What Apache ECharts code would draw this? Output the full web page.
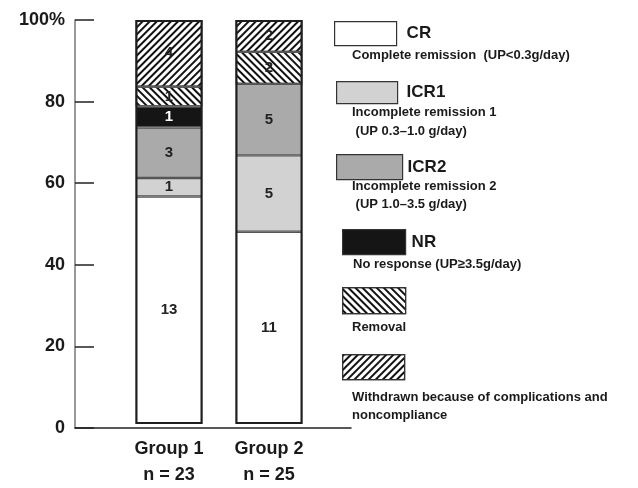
<!DOCTYPE html>
<html>
<head>
<meta charset="utf-8">
<script src="https://cdn.jsdelivr.net/npm/echarts@6/dist/echarts.min.js"></script>
<style>html,body{margin:0;padding:0;background:#fff;}#c{width:638px;height:488px;}</style>
</head>
<body>
<div id="c"></div>
<script>
// ---- data ----
const groupNames = ['Group 1', 'Group 2'];
const groupN = [23, 25];
const seriesNames = ['CR', 'ICR1', 'ICR2', 'NR', 'Removal', 'Withdrawn'];
// percentage heights
const pctCR = [56.3, 47.6];
const pctICR1 = [4.6, 18.9];
const pctICR2 = [12.5, 17.7];
const pctNR = [5.2, 0];
const pctRemoval = [4.9, 7.9];
const pctWithdrawn = [16.5, 7.9];
const pctTotal = [100, 100];
// patient counts shown inside the bars
const cntCR = [13, 11];
const cntICR1 = [1, 5];
const cntICR2 = [3, 5];
const cntNR = [1, 0];
const cntRemoval = [1, 2];
const cntWithdrawn = [4, 2];
const yTicks = [0, 20, 40, 60, 80, 100];
const descCR = ['Complete remission  (UP<0.3g/day)'];
const descICR1 = ['Incomplete remission 1', ' (UP 0.3\u20131.0 g/day)'];
const descICR2 = ['Incomplete remission 2', ' (UP 1.0\u20133.5 g/day)'];
const descNR = ['No response (UP\u22653.5g/day)'];
const descRemoval = ['Removal'];
const descWithdrawn = ['Withdrawn because of complications and', 'noncompliance'];

const FONT = 'Arial, "Liberation Sans", Helvetica, sans-serif';
const pcts = [pctCR, pctICR1, pctICR2, pctNR, pctRemoval, pctWithdrawn];
const cnts = [cntCR, cntICR1, cntICR2, cntNR, cntRemoval, cntWithdrawn];
const decalWithdrawn = {symbol:'rect', symbolSize:1, dashArrayX:[1,0], dashArrayY:[1.3,2.4], rotation:-Math.PI/4, color:'#111'};
const decalRemoval = {symbol:'rect', symbolSize:1, dashArrayX:[1,0], dashArrayY:[2,2.3], rotation:Math.PI/4, color:'#111'};
const styles = [
  {color:'#ffffff'},
  {color:'#d2d2d2'},
  {color:'#a9aaa9'},
  {color:'#151515'},
  {color:'#ffffff', decal: decalRemoval},
  {color:'#ffffff', decal: decalWithdrawn}
];

const series = seriesNames.map((name, si) => ({
  name: name,
  type: 'bar',
  stack: 'total',
  xAxisIndex: 1,
  yAxisIndex: 1,
  barWidth: 67,
  barGap: '-100%',
  data: pcts[si],
  itemStyle: Object.assign({borderColor:'#555', borderWidth:1.2}, styles[si]),
  label: {
    show: true,
    position: 'inside',
    fontFamily: FONT,
    fontWeight: 'bold',
    fontSize: 15,
    color: si === 3 ? '#fff' : '#222',
    formatter: p => cnts[si][p.dataIndex] ? String(cnts[si][p.dataIndex]) : ''
  },
  emphasis: {disabled: true}
}));
// outer outline of each bar
series.push({
  name: 'outline',
  type: 'bar',
  xAxisIndex: 1,
  yAxisIndex: 1,
  barWidth: 67,
  barGap: '-100%',
  z: 5,
  data: pctTotal,
  itemStyle: {color: 'rgba(0,0,0,0)', borderColor: '#1e1e1e', borderWidth: 2},
  label: {show: false},
  emphasis: {disabled: true},
  silent: true
});

const legendPos = [
  {left:334, top:21, w:62, h:24, pad:5},
  {left:336, top:81, w:61, h:22, pad:4},
  {left:336, top:154, w:66, h:25, pad:0},
  {left:342, top:229, w:63, h:25, pad:1},
  {left:342, top:287, w:63, h:26, pad:0},
  {left:342, top:354, w:62, h:25, pad:0}
];
const legends = seriesNames.map((name, i) => ({
  data: [{name: name, icon: 'rect', itemStyle: {borderColor: '#333', borderWidth: 1.2}}],
  left: legendPos[i].left,
  top: legendPos[i].top,
  itemWidth: legendPos[i].w,
  itemHeight: legendPos[i].h,
  padding: 0,
  selectedMode: false,
  formatter: n => (n === 'Removal' || n === 'Withdrawn') ? '' : n,
  textStyle: {fontFamily: FONT, fontWeight: 'bold', fontSize: 17, color: '#1a1a1a', padding: [0,0,0,legendPos[i].pad]}
}));

const descs = [
  {lines: descCR, x: 352, y: [55]},
  {lines: descICR1, x: 352, y: [112.5, 131]},
  {lines: descICR2, x: 352, y: [186, 204]},
  {lines: descNR, x: 353, y: [264]},
  {lines: descRemoval, x: 352, y: [327]},
  {lines: descWithdrawn, x: 352, y: [397.5, 415]}
];
const graphics = [];
descs.forEach(d => d.lines.forEach((t, k) => graphics.push({
  type: 'text', x: d.x, y: d.y[k],
  style: {text: t, fontFamily: FONT, fontWeight: 'bold', fontSize: 13, fill: '#1a1a1a', verticalAlign: 'middle', textVerticalAlign: 'middle'}
})));

const option = {
  animation: false,
  backgroundColor: '#fff',
  grid: [
    {left: 75, right: 287, top: 20, bottom: 60},
    {left: 119, right: 319, top: 20, bottom: 60}
  ],
  xAxis: [
    {gridIndex: 0, type: 'value', min: 0, max: 1, axisLine: {show: true, lineStyle: {color: '#222', width: 1.5}}, axisTick: {show: false}, axisLabel: {show: false}, splitLine: {show: false}},
    {gridIndex: 1, type: 'category', data: groupNames.map((g, i) => g + '\nn = ' + groupN[i]),
     axisLine: {show: false}, axisTick: {show: false},
     axisLabel: {margin: 12, fontFamily: FONT, fontWeight: 'bold', fontSize: 18, lineHeight: 26, color: '#1a1a1a'}}
  ],
  yAxis: [
    {gridIndex: 0, type: 'value', min: yTicks[0], max: yTicks[yTicks.length - 1], interval: yTicks[1] - yTicks[0],
     axisLine: {show: true, lineStyle: {color: '#777', width: 1.5}},
     axisTick: {show: true, inside: true, length: 19, lineStyle: {color: '#222', width: 1.5}},
     axisLabel: {margin: 10, fontFamily: FONT, fontWeight: 'bold', fontSize: 18, color: '#1a1a1a',
       formatter: v => v === 100 ? '100%' : String(v)},
     splitLine: {show: false}},
    {gridIndex: 1, type: 'value', min: 0, max: 100, show: false, splitLine: {show: false}}
  ],
  legend: legends,
  graphic: graphics,
  series: series
};
const chart = echarts.init(document.getElementById('c'), null, {renderer: 'canvas'});
chart.setOption(option);
</script>
</body>
</html>
